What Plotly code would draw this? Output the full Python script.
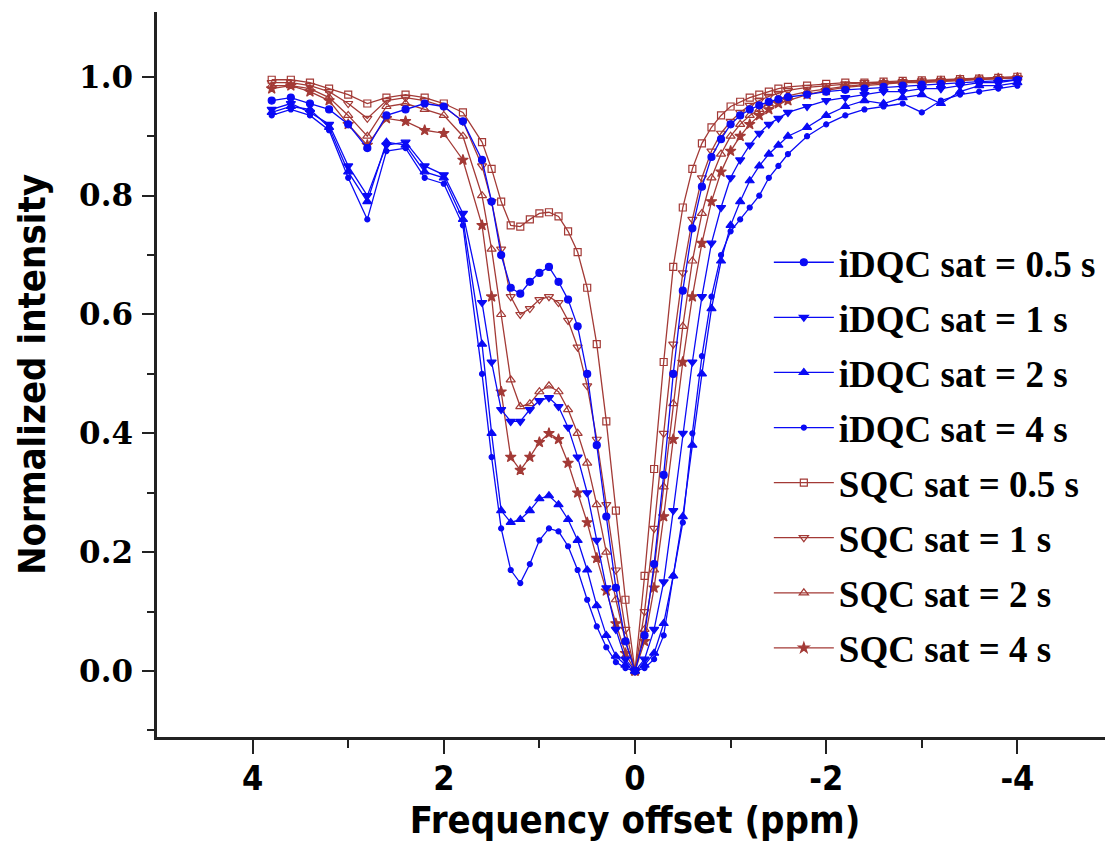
import plotly.graph_objects as go

# Frequency offset grid (ppm)
freq_ppm = [3.8, 3.6, 3.4, 3.2, 3.0, 2.8, 2.6, 2.4, 2.2, 2.0, 1.8, 1.6,
            1.5, 1.4, 1.3, 1.2, 1.1, 1.0, 0.9, 0.8, 0.7, 0.6, 0.5, 0.4, 0.3, 0.2, 0.1,
            0.0, -0.1, -0.2, -0.3, -0.4, -0.5, -0.6, -0.7, -0.8, -0.9, -1.0, -1.1,
            -1.2, -1.3, -1.4, -1.5, -1.6, -1.8, -2.0, -2.2, -2.4, -2.6, -2.8, -3.0,
            -3.2, -3.4, -3.6, -3.8, -4.0]

idqc_05 = [0.96, 0.965, 0.955, 0.945, 0.92, 0.88, 0.935, 0.945, 0.955, 0.95, 0.925, 0.86,
           0.79, 0.70, 0.645, 0.635, 0.655, 0.67, 0.68, 0.655, 0.625, 0.58, 0.50, 0.38, 0.26, 0.14, 0.05,
           0.0, 0.06, 0.18, 0.33, 0.50, 0.64, 0.745, 0.815, 0.865, 0.895, 0.92, 0.935,
           0.945, 0.952, 0.958, 0.962, 0.966, 0.97, 0.975, 0.978, 0.98, 0.983, 0.985, 0.987,
           0.988, 0.99, 0.992, 0.993, 0.995]

idqc_1 = [0.945, 0.955, 0.94, 0.92, 0.85, 0.80, 0.885, 0.89, 0.85, 0.835, 0.77, 0.62,
          0.52, 0.44, 0.42, 0.42, 0.44, 0.455, 0.46, 0.445, 0.41, 0.36, 0.30, 0.22, 0.14, 0.07, 0.02,
          0.0, 0.02, 0.07, 0.15, 0.27, 0.40, 0.52, 0.63, 0.72, 0.78, 0.83, 0.86,
          0.885, 0.905, 0.92, 0.93, 0.94, 0.95, 0.96, 0.965, 0.97, 0.975, 0.975, 0.98,
          0.98, 0.985, 0.99, 0.99, 0.995]

idqc_2 = [0.94, 0.95, 0.945, 0.915, 0.84, 0.79, 0.89, 0.885, 0.84, 0.83, 0.76, 0.55,
          0.40, 0.27, 0.25, 0.255, 0.27, 0.29, 0.295, 0.28, 0.255, 0.22, 0.17, 0.11, 0.06, 0.025, 0.01,
          0.0, 0.01, 0.03, 0.08, 0.16, 0.26, 0.38, 0.50, 0.61, 0.69, 0.75, 0.79,
          0.825, 0.85, 0.87, 0.885, 0.90, 0.915, 0.935, 0.95, 0.96, 0.955, 0.965, 0.97,
          0.955, 0.975, 0.985, 0.985, 0.99]

idqc_4 = [0.935, 0.945, 0.935, 0.91, 0.83, 0.76, 0.875, 0.88, 0.83, 0.82, 0.75, 0.50,
          0.36, 0.24, 0.17, 0.148, 0.18, 0.22, 0.24, 0.235, 0.21, 0.17, 0.12, 0.075, 0.04, 0.015, 0.005,
          0.0, 0.005, 0.02, 0.06, 0.16, 0.25, 0.40, 0.53, 0.63, 0.70, 0.74, 0.76,
          0.78, 0.80, 0.83, 0.85, 0.87, 0.90, 0.92, 0.935, 0.945, 0.95, 0.955, 0.94,
          0.96, 0.97, 0.975, 0.98, 0.985]

sqc_05 = [0.995, 0.995, 0.99, 0.98, 0.97, 0.955, 0.965, 0.97, 0.965, 0.955, 0.94, 0.89,
          0.845, 0.79, 0.75, 0.748, 0.76, 0.77, 0.772, 0.765, 0.74, 0.705, 0.645, 0.55, 0.42, 0.27, 0.12,
          0.0, 0.16, 0.34, 0.52, 0.68, 0.78, 0.845, 0.888, 0.915, 0.935, 0.95, 0.958,
          0.965, 0.97, 0.975, 0.98, 0.983, 0.985, 0.988, 0.99, 0.99, 0.992, 0.993, 0.994,
          0.995, 0.996, 0.997, 0.998, 1.0]

sqc_1 = [0.99, 0.99, 0.985, 0.975, 0.955, 0.93, 0.96, 0.965, 0.96, 0.95, 0.925, 0.85,
         0.79, 0.71, 0.63, 0.60, 0.61, 0.625, 0.63, 0.62, 0.59, 0.545, 0.48, 0.39, 0.28, 0.17, 0.07,
         0.0, 0.10, 0.24, 0.40, 0.55, 0.67, 0.76, 0.83, 0.875, 0.905, 0.925, 0.94,
         0.952, 0.96, 0.967, 0.972, 0.977, 0.982, 0.985, 0.988, 0.99, 0.99, 0.992, 0.993,
         0.994, 0.995, 0.996, 0.997, 0.998]

sqc_2 = [0.985, 0.985, 0.98, 0.965, 0.935, 0.90, 0.95, 0.955, 0.945, 0.935, 0.90, 0.80,
         0.71, 0.60, 0.49, 0.445, 0.45, 0.47, 0.48, 0.47, 0.44, 0.40, 0.35, 0.28, 0.20, 0.12, 0.05,
         0.0, 0.07, 0.17, 0.31, 0.45, 0.58, 0.69, 0.77, 0.83, 0.87, 0.90, 0.92,
         0.935, 0.945, 0.955, 0.962, 0.968, 0.975, 0.98, 0.984, 0.987, 0.99, 0.99, 0.992,
         0.993, 0.995, 0.996, 0.997, 0.998]

sqc_4 = [0.98, 0.985, 0.975, 0.96, 0.92, 0.885, 0.93, 0.925, 0.91, 0.905, 0.86, 0.75,
         0.63, 0.47, 0.36, 0.338, 0.36, 0.385, 0.40, 0.39, 0.35, 0.30, 0.25, 0.19, 0.135, 0.08, 0.03,
         0.0, 0.05, 0.14, 0.26, 0.39, 0.52, 0.63, 0.72, 0.79, 0.84, 0.875, 0.90,
         0.92, 0.935, 0.945, 0.955, 0.96, 0.97, 0.977, 0.982, 0.985, 0.988, 0.99, 0.99,
         0.992, 0.994, 0.995, 0.997, 0.998]

series_names = ["iDQC sat = 0.5 s", "iDQC sat = 1 s", "iDQC sat = 2 s", "iDQC sat = 4 s",
                "SQC sat = 0.5 s", "SQC sat = 1 s", "SQC sat = 2 s", "SQC sat = 4 s"]
series_values = [idqc_05, idqc_1, idqc_2, idqc_4, sqc_05, sqc_1, sqc_2, sqc_4]

BLUE = "#0a0af5"
RED = "#a33a36"
styles = [
    (BLUE, "circle", 7),
    (BLUE, "triangle-down", 8),
    (BLUE, "triangle-up", 8),
    (BLUE, "circle", 5),
    (RED, "square-open", 7),
    (RED, "triangle-down-open", 8),
    (RED, "triangle-up-open", 8),
    (RED, "star", 8),
]

fig = go.Figure()
order = [4, 5, 6, 7, 0, 1, 2, 3]
for i in order:
    color, sym, size = styles[i]
    fig.add_trace(go.Scatter(
        x=freq_ppm, y=series_values[i], name=series_names[i],
        mode="lines+markers",
        line=dict(color=color, width=1.3),
        marker=dict(color=color, symbol=sym, size=size, line=dict(color=color, width=1.2)),
        legendgroup=series_names[i], legendrank=i + 1,
    ))

axis_font = dict(family="Liberation Sans Narrow, DejaVu Sans Condensed, Arial Narrow, sans-serif",
                 size=38, color="black", weight="bold")

# page body has an 8px default margin; compensate so the plot sits where the reference does
fig.update_layout(
    width=1105, height=849,
    margin=dict(l=149, r=0, t=4, b=120),
    paper_bgcolor="white", plot_bgcolor="white",
    showlegend=True,
    legend=dict(
        x=0.64, y=0.697, xanchor="left", yanchor="top",
        font=dict(family="Liberation Serif, Times New Roman, serif", size=37, color="black", weight="bold"),
        bgcolor="rgba(0,0,0,0)", tracegroupgap=4, itemwidth=60,
    ),
    xaxis=dict(
        range=[5, -5], showgrid=False, zeroline=False, automargin=False,
        showline=True, linecolor="#222", linewidth=2.5,
        ticks="outside", ticklen=14, tickwidth=2, tickcolor="#222",
        tickmode="array", tickvals=[4, 2, 0, -2, -4], ticktext=["4", "2", "0", "-2", "-4"],
        minor=dict(tickvals=[3, 1, -1, -3], ticks="outside", ticklen=8, tickwidth=2, tickcolor="#222"),
        tickfont=dict(family="Liberation Sans Narrow, DejaVu Sans Condensed, sans-serif", size=34,
                      color="black", weight="bold"),
        ticklabelstandoff=-5,
        title=dict(text="Frequency offset (ppm)", font=axis_font, standoff=8),
    ),
    yaxis=dict(
        range=[-0.111, 1.109], showgrid=False, zeroline=False, automargin=False,
        showline=True, linecolor="#222", linewidth=2.5,
        ticks="outside", ticklen=12, tickwidth=2, tickcolor="#222",
        tickmode="array", tickvals=[0.0, 0.2, 0.4, 0.6, 0.8, 1.0],
        ticktext=["0.0", "0.2", "0.4", "0.6", "0.8", "1.0"],
        minor=dict(tickvals=[-0.1, 0.1, 0.3, 0.5, 0.7, 0.9], ticks="outside", ticklen=7, tickwidth=2, tickcolor="#222"),
        tickfont=dict(family="DejaVu Serif, serif", size=31, color="black", weight="bold"),
        ticklabelstandoff=3,
        title=dict(text="Normalized intensity", font=axis_font, standoff=22),
    ),
)

fig.write_html("out.html")
